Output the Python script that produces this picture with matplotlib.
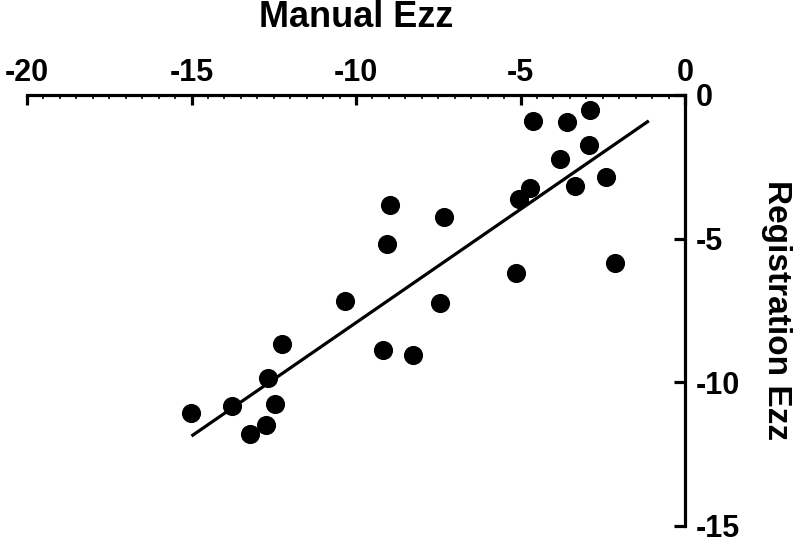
import matplotlib
matplotlib.use('Agg')
import matplotlib.pyplot as plt
from matplotlib.ticker import MultipleLocator

# values
manual = [-4.63, -3.58, -2.88, -2.93, -3.81, -2.39, -3.33, -4.72, -5.05, -7.32,
          -2.12, -5.15, -8.97, -9.07, -10.33, -7.45, -12.24, -9.18, -8.26, -12.68,
          -13.77, -15.02, -12.45, -12.73, -13.23]
registration = [-0.90, -0.95, -0.51, -1.73, -2.23, -2.85, -3.16, -3.22, -3.62, -4.26,
                 -5.86, -6.18, -3.82, -5.19, -7.17, -7.25, -8.65, -8.89, -9.05, -9.84,
                 -10.82, -11.06, -10.77, -11.50, -11.81]
# regression line end points
fit_x = [-15.0, -1.1]
fit_y = [-11.87, -0.90]

plt.rcParams['font.family'] = ['Liberation Sans', 'DejaVu Sans']
plt.rcParams['font.weight'] = 'bold'
plt.rcParams['axes.unicode_minus'] = False

fig = plt.figure(figsize=(8, 5.49), dpi=100)
ax = fig.add_axes([0.03375, 0.0419, 0.8225, 0.7851])

ax.scatter(manual, registration, s=190, color='black', zorder=3, linewidths=0)
ax.plot(fit_x, fit_y, color='black', lw=2.3, solid_capstyle='butt')

ax.set_xlim(-20, 0)
ax.set_ylim(-15, 0)

for s in ['left', 'bottom']:
    ax.spines[s].set_visible(False)
for s in ['top', 'right']:
    ax.spines[s].set_linewidth(2.3)

ax.xaxis.tick_top()
ax.yaxis.tick_right()
ax.xaxis.set_label_position('top')
ax.yaxis.set_label_position('right')
ax.set_xticks([-20, -15, -10, -5, 0])
ax.set_yticks([0, -5, -10, -15])
ax.xaxis.set_minor_locator(MultipleLocator(0.5))
ax.tick_params(axis='x', which='major', direction='in', length=7, width=2.3,
               labelsize=22, pad=5)
ax.tick_params(axis='x', which='minor', direction='in', length=3, width=1.2)
ax.tick_params(axis='y', which='major', direction='in', length=8, width=2.3,
               labelsize=22, pad=8)

ax.set_xlabel('Manual Ezz', fontsize=26, fontweight='bold', labelpad=22)
ax.set_ylabel('Registration Ezz', fontsize=24, fontweight='bold', rotation=270,
              labelpad=37)

fig.savefig('out.png', dpi=100)
